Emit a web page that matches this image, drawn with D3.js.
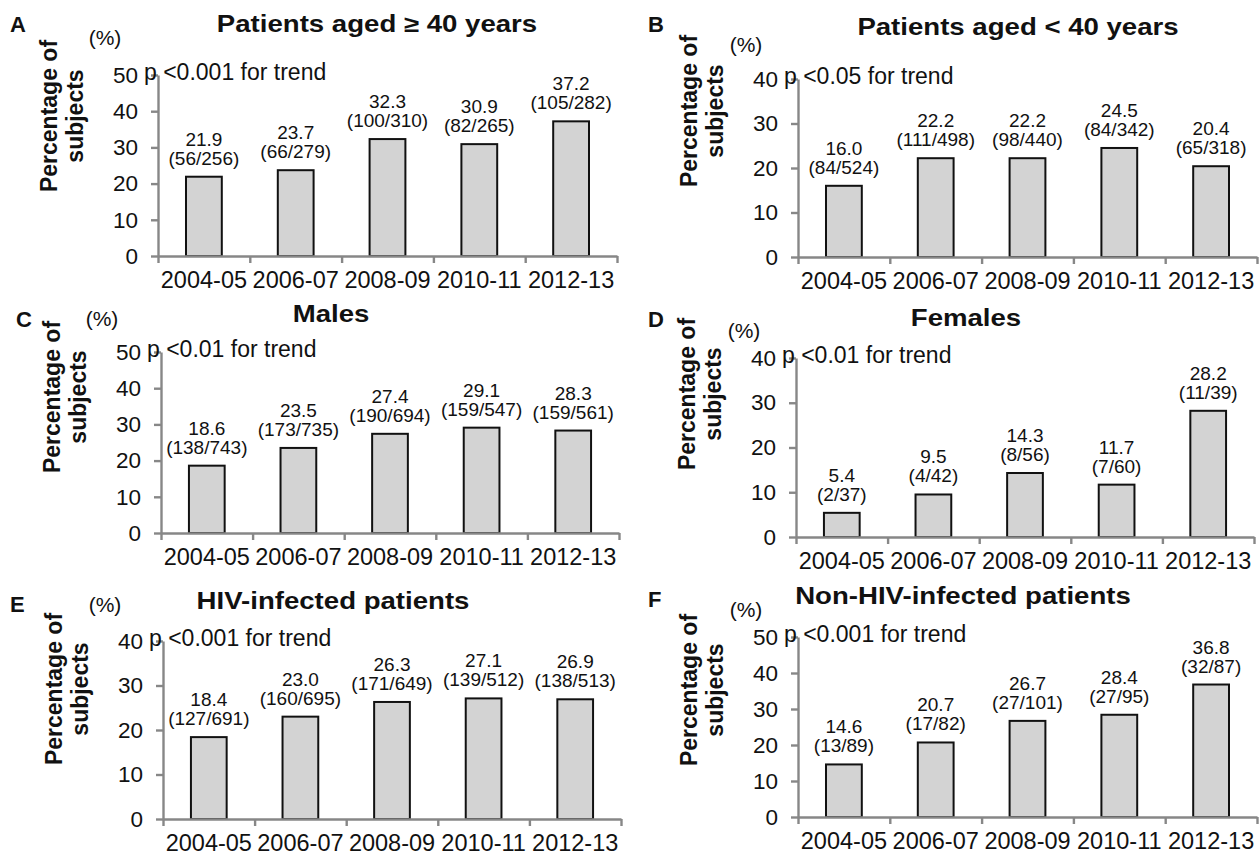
<!DOCTYPE html>
<html>
<head>
<meta charset="utf-8">
<script src="https://cdn.jsdelivr.net/npm/d3@7"></script>
<style>
  html, body { margin: 0; padding: 0; background: #fff; }
  svg { display: block; }
  text { font-family: "Liberation Sans", Arial, Helvetica, sans-serif; fill: #111; }
</style>
</head>
<body>
<svg id="chart" width="1260" height="858"></svg>
<script>
// Two-year periods shared by every panel
const periods = ["2004-05", "2006-07", "2008-09", "2010-11", "2012-13"];

// Percentage of subjects and counts (n/N) per subgroup
const agedOver40Pct = [21.9, 23.7, 32.3, 30.9, 37.2];
const agedOver40N = ["56/256", "66/279", "100/310", "82/265", "105/282"];

const agedUnder40Pct = [16.0, 22.2, 22.2, 24.5, 20.4];
const agedUnder40N = ["84/524", "111/498", "98/440", "84/342", "65/318"];

const malesPct = [18.6, 23.5, 27.4, 29.1, 28.3];
const malesN = ["138/743", "173/735", "190/694", "159/547", "159/561"];

const femalesPct = [5.4, 9.5, 14.3, 11.7, 28.2];
const femalesN = ["2/37", "4/42", "8/56", "7/60", "11/39"];

const hivPct = [18.4, 23.0, 26.3, 27.1, 26.9];
const hivN = ["127/691", "160/695", "171/649", "139/512", "138/513"];

const nonHivPct = [14.6, 20.7, 26.7, 28.4, 36.8];
const nonHivN = ["13/89", "17/82", "27/101", "27/95", "32/87"];

// Panel letters, titles, trend tests and y-axis maxima
const panelLetters = ["A", "B", "C", "D", "E", "F"];
const panelTitles = ["Patients aged \u2265 40 years", "Patients aged < 40 years", "Males", "Females",
                     "HIV-infected patients", "Non-HIV-infected patients"];
const trendTexts = ["p <0.001 for trend", "p <0.05 for trend", "p <0.01 for trend", "p <0.01 for trend",
                    "p <0.001 for trend", "p <0.001 for trend"];
const yMaxima = [50, 40, 50, 40, 40, 50];
const yTickStep = 10;

const panelPct = [agedOver40Pct, agedUnder40Pct, malesPct, femalesPct, hivPct, nonHivPct];
const panelN = [agedOver40N, agedUnder40N, malesN, femalesN, hivN, nonHivN];

// Layout of each panel on the page (plot frame, title, letter, unit and axis-title anchors)
const layout = [
  { x0: 158, x1: 617,  yZero: 256, yTop: 75,  titleX: 377, titleY: 32,  letterX: 10,  letterY: 32,  unitX: 105, unitY: 45,  axisTitleY: 116 },
  { x0: 798, x1: 1257, yZero: 257, yTop: 79,  titleX: 1018, titleY: 35, letterX: 648, letterY: 32,  unitX: 746, unitY: 52,  axisTitleY: 111 },
  { x0: 161, x1: 619,  yZero: 533, yTop: 352, titleX: 331, titleY: 322, letterX: 16,  letterY: 327, unitX: 102, unitY: 326, axisTitleY: 397 },
  { x0: 796, x1: 1254, yZero: 537, yTop: 358, titleX: 966, titleY: 326, letterX: 648, letterY: 327, unitX: 744, unitY: 338, axisTitleY: 394 },
  { x0: 163, x1: 621,  yZero: 819, yTop: 641, titleX: 333, titleY: 609, letterX: 10,  letterY: 612, unitX: 105, unitY: 612, axisTitleY: 689 },
  { x0: 798, x1: 1257, yZero: 817, yTop: 637, titleX: 963, titleY: 604, letterX: 648, letterY: 607, unitX: 746, unitY: 617, axisTitleY: 690 }
];

const AXIS_COLOR = "#878787";
const BAR_FILL = "#d3d3d3";

const svg = d3.select("#chart");

panelLetters.forEach((letter, i) => {
  const L = layout[i];
  const g = svg.append("g");
  const values = panelPct[i];
  const counts = panelN[i];

  const x = d3.scaleBand().domain(periods).range([L.x0, L.x1])
    .paddingInner(0.61).paddingOuter(0.305);
  const xEdges = d3.scaleLinear().domain([0, periods.length]).range([L.x0, L.x1]);
  const y = d3.scaleLinear().domain([0, yMaxima[i]]).range([L.yZero, L.yTop]);

  // Bars
  g.selectAll("rect.bar").data(values).join("rect")
    .attr("class", "bar")
    .attr("x", (d, k) => x(periods[k]))
    .attr("y", d => y(d))
    .attr("width", x.bandwidth())
    .attr("height", d => y(0) - y(d))
    .attr("fill", BAR_FILL)
    .attr("stroke", "#111")
    .attr("stroke-width", 2);

  // Y axis
  const yAxis = g.append("g")
    .attr("transform", `translate(${L.x0},0)`)
    .call(d3.axisLeft(y).tickValues(d3.range(0, yMaxima[i] + 1, yTickStep))
      .tickSize(7).tickSizeOuter(0).tickPadding(13));
  yAxis.select(".domain").attr("stroke", AXIS_COLOR).attr("stroke-width", 2.4);
  yAxis.selectAll(".tick line").attr("stroke", AXIS_COLOR).attr("stroke-width", 2.4);
  yAxis.selectAll(".tick text")
    .attr("font-size", 22.5).attr("fill", "#111")
    .style("font-family", "'Liberation Sans', Arial, sans-serif");

  // X axis: category boundary ticks
  const xAxis = g.append("g")
    .attr("transform", `translate(0,${L.yZero})`)
    .call(d3.axisBottom(xEdges).tickValues(d3.range(0, periods.length + 1))
      .tickSize(7).tickSizeOuter(0).tickFormat(""));
  xAxis.select(".domain").attr("stroke", AXIS_COLOR).attr("stroke-width", 2.4);
  xAxis.selectAll(".tick line").attr("stroke", AXIS_COLOR).attr("stroke-width", 2.4);

  // X axis: period labels centred under each bar
  const xLabels = g.append("g")
    .attr("transform", `translate(0,${L.yZero})`)
    .call(d3.axisBottom(x).tickSize(0).tickPadding(15));
  xLabels.select(".domain").remove();
  xLabels.selectAll(".tick text")
    .attr("font-size", 23.5).attr("fill", "#111")
    .style("font-family", "'Liberation Sans', Arial, sans-serif");

  // Value labels: percentage over count
  const lab = g.selectAll("g.vlab").data(values).join("g")
    .attr("class", "vlab")
    .attr("transform", (d, k) => `translate(${x(periods[k]) + x.bandwidth() / 2},${y(d) - 12})`);
  lab.append("text").attr("text-anchor", "middle").attr("y", -19)
    .attr("font-size", 19).text(d => d.toFixed(1));
  lab.append("text").attr("text-anchor", "middle").attr("y", 0)
    .attr("font-size", 19).text((d, k) => `(${counts[k]})`);

  // Trend test note at the top of the y axis
  g.append("text")
    .attr("x", L.x0 - 14).attr("y", L.yTop + 5)
    .attr("font-size", 23)
    .text(trendTexts[i]);

  // Unit
  g.append("text")
    .attr("x", L.unitX).attr("y", L.unitY)
    .attr("text-anchor", "middle").attr("font-size", 21)
    .text("(%)");

  // Y axis title (two lines)
  [["Percentage of", -101], ["subjects", -75]].forEach(([t, dx]) => {
    g.append("text")
      .attr("transform", `translate(${L.x0 + dx},${L.axisTitleY}) rotate(-90)`)
      .attr("text-anchor", "middle")
      .attr("font-size", 23).attr("font-weight", "bold")
      .text(t);
  });

  // Panel title
  g.append("text")
    .attr("transform", `translate(${L.titleX},${L.titleY}) scale(1.2,1)`)
    .attr("text-anchor", "middle")
    .attr("font-size", 23).attr("font-weight", "bold")
    .text(panelTitles[i]);

  // Panel letter
  g.append("text")
    .attr("x", L.letterX).attr("y", L.letterY)
    .attr("font-size", 22).attr("font-weight", "bold")
    .text(letter);
});
</script>
</body>
</html>
